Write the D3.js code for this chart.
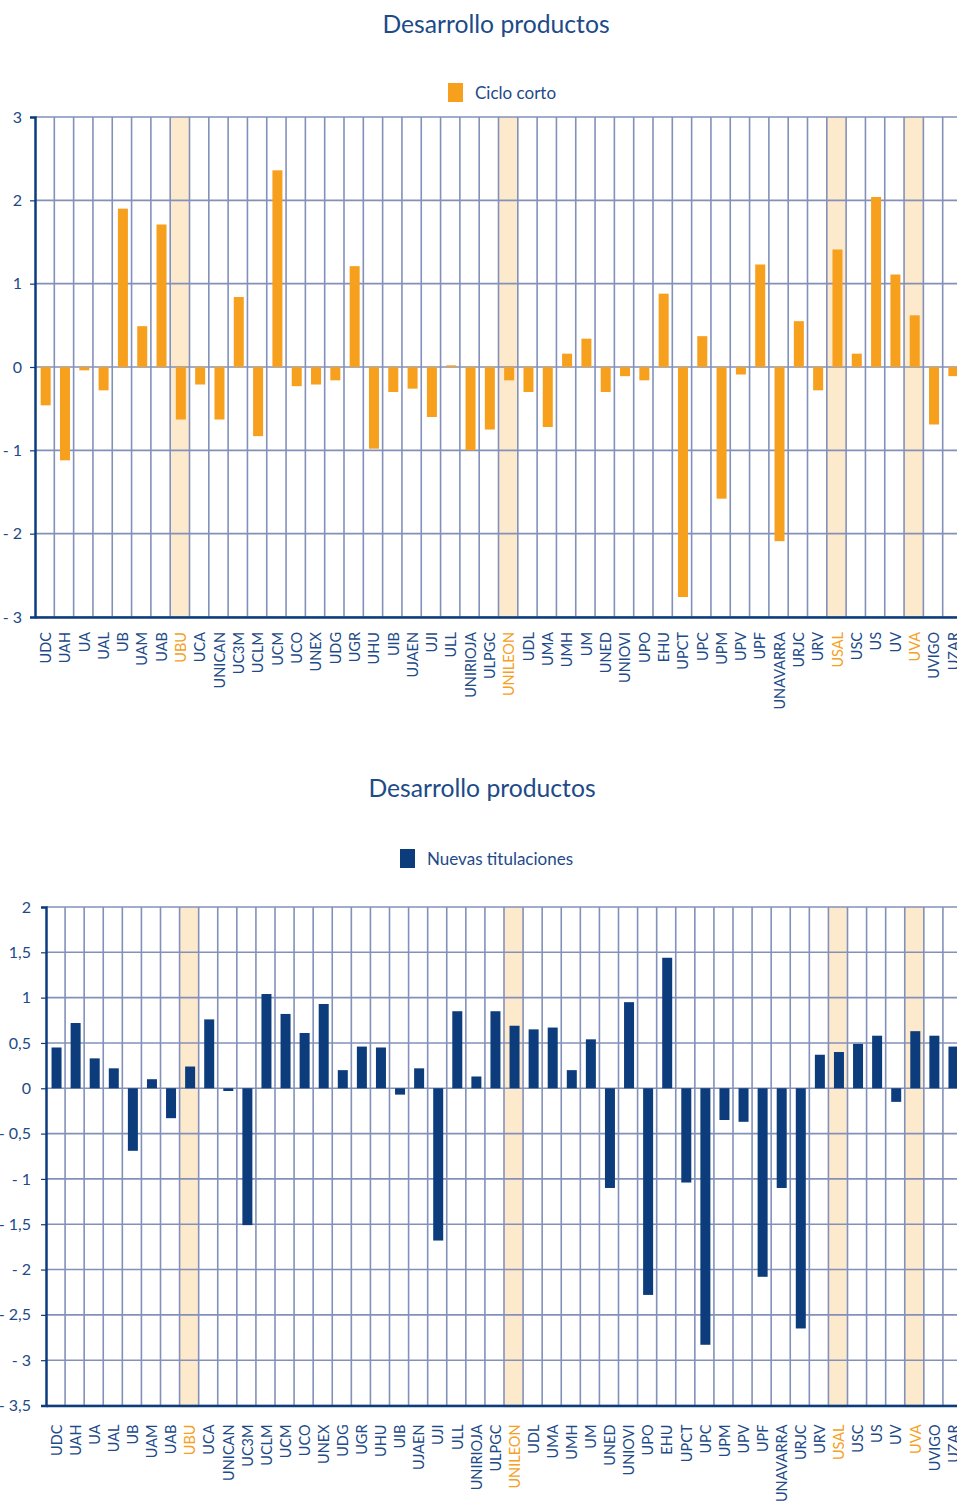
<!DOCTYPE html>
<html>
<head>
<meta charset="utf-8">
<script src="https://cdn.jsdelivr.net/npm/d3@7"></script>
<style>
  html, body { margin: 0; padding: 0; background: #fff; }
  svg { display: block; }
  text { font-family: Lato, "Open Sans", sans-serif; }
</style>
</head>
<body>
<div id="chart"></div>
<script>
// Universities (same order in both panels)
const universities = ["UDC","UAH","UA","UAL","UB","UAM","UAB","UBU","UCA","UNICAN","UC3M","UCLM","UCM","UCO","UNEX","UDG","UGR","UHU","UIB","UJAEN","UJI","ULL","UNIRIOJA","ULPGC","UNILEON","UDL","UMA","UMH","UM","UNED","UNIOVI","UPO","EHU","UPCT","UPC","UPM","UPV","UPF","UNAVARRA","URJC","URV","USAL","USC","US","UV","UVA","UVIGO","UZAR"];

// Universities shown with a shaded column
const highlighted = ["UBU","UNILEON","USAL","UVA"];

// Panel 1: Ciclo corto
const cicloCorto = [-0.46,-1.12,-0.04,-0.28,1.9,0.49,1.71,-0.63,-0.21,-0.63,0.84,-0.83,2.36,-0.23,-0.21,-0.16,1.21,-0.98,-0.30,-0.26,-0.60,0.02,-1.0,-0.75,-0.16,-0.30,-0.72,0.16,0.34,-0.30,-0.11,-0.16,0.88,-2.76,0.37,-1.58,-0.09,1.23,-2.09,0.55,-0.28,1.41,0.16,2.04,1.11,0.62,-0.69,-0.11];

// Panel 2: Nuevas titulaciones
const nuevasTitulaciones = [0.45,0.72,0.33,0.22,-0.69,0.10,-0.33,0.24,0.76,-0.03,-1.51,1.04,0.82,0.61,0.93,0.20,0.46,0.45,-0.07,0.22,-1.68,0.85,0.13,0.85,0.69,0.65,0.67,0.20,0.54,-1.10,0.95,-2.28,1.44,-1.04,-2.83,-0.35,-0.37,-2.08,-1.10,-2.65,0.37,0.40,0.49,0.58,-0.15,0.63,0.58,0.46];

// Axis ticks
const ticksTop = [-3,-2,-1,0,1,2,3];
const ticksBottom = [-3.5,-3,-2.5,-2,-1.5,-1,-0.5,0,0.5,1,1.5,2];

const W = 957, H = 1502;
const NAVY = "#0d3c7d";
const TEXT = "#1d4a88";
const ORANGE = "#f6a01e";
const BAND = "#fde9cc";
const GRID = "#8391ba";

const svg = d3.select("#chart").append("svg")
  .attr("width", W).attr("height", H);

function fmt(v) {
  const s = d3.format("")(Math.abs(v)).replace(".", ",");
  return v < 0 ? "- " + s : s;
}

function panel(opts) {
  const g = svg.append("g");
  const x = d3.scaleBand().domain(universities).range(opts.xRange).padding(0);
  const y = d3.scaleLinear().domain(opts.yDomain).range(opts.yRange);
  const bw = 10;

  // Title
  g.append("text")
    .attr("x", opts.titleX).attr("y", opts.titleY)
    .attr("text-anchor", "middle")
    .attr("font-size", 24.7)
    .attr("fill", TEXT)
    .text("Desarrollo productos");

  // Legend
  g.append("rect")
    .attr("x", opts.legendX).attr("y", opts.legendY)
    .attr("width", 15).attr("height", 19)
    .attr("fill", opts.color);
  g.append("text")
    .attr("x", opts.legendX + 27).attr("y", opts.legendY + 16)
    .attr("font-size", 17)
    .attr("fill", TEXT)
    .text(opts.label);

  // Highlight columns
  g.selectAll("rect.hl").data(highlighted).join("rect")
    .attr("class", "hl")
    .attr("x", d => x(d))
    .attr("y", y.range()[1])
    .attr("width", x.bandwidth())
    .attr("height", y.range()[0] - y.range()[1] + 2)
    .attr("fill", BAND);

  // Horizontal gridlines
  g.selectAll("line.hg").data(opts.ticks).join("line")
    .attr("class", "hg")
    .attr("x1", opts.xRange[0]).attr("x2", opts.xRange[1])
    .attr("y1", d => y(d)).attr("y2", d => y(d))
    .attr("stroke", GRID).attr("stroke-width", 1.6);

  // Vertical gridlines at band edges
  g.selectAll("line.vg").data(universities.slice(1)).join("line")
    .attr("class", "vg")
    .attr("x1", d => x(d)).attr("x2", d => x(d))
    .attr("y1", y.range()[1]).attr("y2", y.range()[0])
    .attr("stroke", GRID).attr("stroke-width", 1.6);

  // Bars
  const vals = opts.values;
  g.selectAll("rect.bar").data(universities).join("rect")
    .attr("class", "bar")
    .attr("x", d => x(d) + x.bandwidth() / 2 - bw / 2 + 1)
    .attr("y", (d, i) => y(Math.max(0, vals[i])))
    .attr("width", bw)
    .attr("height", (d, i) => Math.abs(y(vals[i]) - y(0)))
    .attr("fill", opts.color);

  // Y axis
  const yAxis = d3.axisLeft(y).tickValues(opts.ticks).tickFormat(fmt).tickSize(5).tickPadding(opts.tickPad);
  const ya = g.append("g").attr("transform", `translate(${opts.xRange[0]},0)`).call(yAxis);
  ya.select(".domain").attr("stroke", NAVY).attr("stroke-width", 2.5);
  ya.selectAll(".tick line").attr("stroke", NAVY).attr("stroke-width", 1.2);
  ya.selectAll(".tick text").attr("fill", TEXT).attr("font-size", 16)
    .style("font-family", "Lato, 'Open Sans', sans-serif");

  // X axis (baseline at bottom of plot)
  const xAxis = d3.axisBottom(x).tickSize(0).tickPadding(0);
  const xa = g.append("g").attr("transform", `translate(0,${y.range()[0]})`).call(xAxis);
  xa.select(".domain").attr("stroke", NAVY).attr("stroke-width", 2.5);
  xa.selectAll(".tick text")
    .attr("transform", "rotate(-90)")
    .attr("text-anchor", "end")
    .attr("x", -opts.labelGap)
    .attr("y", 0)
    .attr("dy", "0.36em")
    .attr("dx", 0)
    .attr("font-size", 14.5)
    .style("font-family", "Lato, 'Open Sans', sans-serif")
    .attr("fill", d => highlighted.includes(d) ? ORANGE : TEXT);
  xa.selectAll(".tick").attr("transform", d => `translate(${x(d) + x.bandwidth() / 2 + 1},0)`);
}

panel({
  xRange: [35, 962],
  yDomain: [-3, 3],
  yRange: [617, 117],
  ticks: ticksTop,
  values: cicloCorto,
  color: ORANGE,
  label: "Ciclo corto",
  titleX: 496, titleY: 33,
  legendX: 448, legendY: 83,
  tickPad: 8,
  labelGap: 15
});

panel({
  xRange: [46, 962],
  yDomain: [-3.5, 2],
  yRange: [1405.5, 907],
  ticks: ticksBottom,
  values: nuevasTitulaciones,
  color: NAVY,
  label: "Nuevas titulaciones",
  titleX: 482, titleY: 797,
  legendX: 400, legendY: 849,
  tickPad: 10,
  labelGap: 19
});
</script>
</body>
</html>
